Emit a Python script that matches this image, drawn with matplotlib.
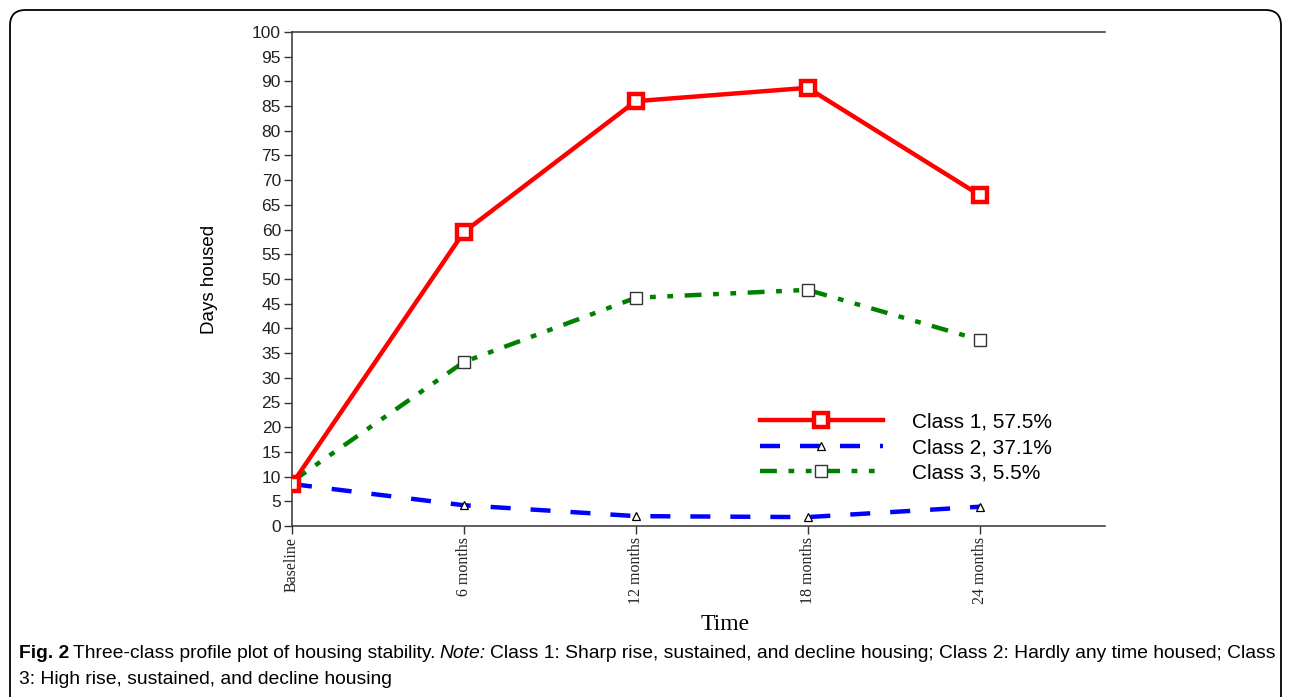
import numpy as np
import matplotlib
matplotlib.use('Agg')
import matplotlib.pyplot as plt
from matplotlib.patches import FancyBboxPatch

# data
times  = ['Baseline', '6 months', '12 months', '18 months', '24 months']
class1 = [8.5, 59.5, 86.0, 88.7, 67.0]
class2 = [8.5, 4.2, 2.0, 1.8, 3.9]
class3 = [9.0, 33.2, 46.2, 47.8, 37.7]
labels = ['Class 1, 57.5%', 'Class 2, 37.1%', 'Class 3, 5.5%']
yticks = list(range(0, 101, 5))

W, H = 1292, 697
fig = plt.figure(figsize=(W/100, H/100), dpi=100)

# rounded frame around figure + caption (open at the bottom)
frame = FancyBboxPatch((10/W, -0.1), (W-11)/W - 10/W, 1.1 - 10/H,
                       boxstyle='round,pad=0,rounding_size=0.012',
                       transform=fig.transFigure, fill=False,
                       ec='black', lw=1.3, mutation_aspect=W/H)
fig.patches.append(frame)

ax = fig.add_axes([292/W, 1-526/H, (1105-292)/W, (526-32)/H])
x = np.arange(len(times))

ax.plot(x, class1, '-', color='red', lw=3.2, marker='s', ms=9.5,
        mfc='white', mec='red', mew=3.2, label=labels[0], zorder=3)
ax.plot(x, class2, color='blue', lw=3.2, dashes=(4.5, 4.5),
        marker='^', ms=6, mfc='white', mec='black', mew=0.9,
        label=labels[1], zorder=2)
ax.plot(x, class3, color='green', lw=3.2, dashes=(3.8, 2.6, 1.3, 2.6, 1.3, 2.6),
        marker='s', ms=8, mfc='white', mec='#333333', mew=1,
        label=labels[2], zorder=2)

ax.set_xlim(0, 4.73)
ax.set_ylim(0, 100)
ax.set_yticks(yticks)
ax.set_yticklabels([str(v) for v in yticks], fontsize=12.5,
                   family='Liberation Sans', color='#222222')
ax.set_xticks(x)
ax.set_xticklabels(times, rotation=90, fontsize=11.5,
                   family='Liberation Serif', color='#222222')
ax.tick_params(direction='out', length=6, width=1, color='#333333', pad=2)
ax.spines['right'].set_visible(False)
for s in ['left', 'bottom', 'top']:
    ax.spines[s].set_linewidth(1.1)
    ax.spines[s].set_color('#333333')

ax.set_ylabel('Days housed', fontsize=13.5, family='Liberation Sans')
ax.yaxis.set_label_coords((218-292)/(1105-292), 0.5)
ax.set_xlabel('Time', fontsize=17, family='Liberation Serif')
ax.xaxis.set_label_coords((725-292)/(1105-292), -(624-526)/(526-32))
ax.xaxis.label.set_va('center')

leg = ax.legend(loc='upper left',
                bbox_to_anchor=((741-292)/(1105-292), 1-(394-32)/(526-32)),
                frameon=False, handlelength=5.9,
                handletextpad=1.4, labelspacing=0.3, numpoints=1,
                prop={'family': 'Liberation Sans', 'size': 15})

# caption with mixed styles, sized so line 1 spans the same width as the reference
cap_font = ['Liberation Sans', 'DejaVu Sans']
parts = [('Fig. 2', 'bold', 'normal'),
         ('Three-class profile plot of housing stability.', 'normal', 'normal'),
         ('Note:', 'normal', 'italic'),
         ('Class 1: Sharp rise, sustained, and decline housing; Class 2: Hardly any time housed; Class',
          'normal', 'normal')]
fig.canvas.draw()
r = fig.canvas.get_renderer()
y1 = 1 - 653/H
gap = 4
probe = []
for txt, wt, st in parts:
    t = fig.text(0, 0, txt, fontsize=12, fontweight=wt, style=st, family=cap_font)
    probe.append(t.get_window_extent(r).width)
    t.remove()
total = sum(probe) + gap*(len(parts)-1)
size = min(14.0, 12 * (1274 - 19) / total)
xpos = 19
for txt, wt, st in parts:
    t = fig.text(xpos/W, y1, txt, fontsize=size, fontweight=wt, style=st,
                 family=cap_font, va='center')
    xpos = t.get_window_extent(r).x1 + gap
fig.text(19/W, 1 - 680/H, '3: High rise, sustained, and decline housing',
         fontsize=size, family=cap_font, va='center')

fig.savefig('out.png', dpi=100)
